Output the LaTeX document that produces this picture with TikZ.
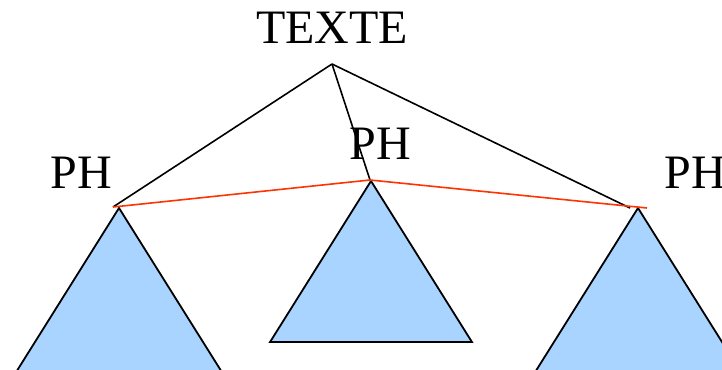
\documentclass[tikz,border=0pt]{standalone}
\usepackage{fontspec}
\setmainfont{Liberation Serif}
\usepackage{tikz}
\usetikzlibrary{positioning}

\definecolor{arbre}{RGB}{168,212,255}
\definecolor{lien}{RGB}{255,51,0}

\tikzset{
	etiq/.style={font=\fontsize{48bp}{58bp}\selectfont, inner sep=0pt, anchor=base},
	branche/.style={black, line width=1.6bp},
	soeur/.style={lien, line width=1.6bp},
	sousarbre/.style={fill=arbre, draw=black, line width=1.8bp, line join=miter}
}

\begin{document}
\begin{tikzpicture}[x=1bp, y=-1bp]
\useasboundingbox (0,0) rectangle (722,369);

% ---- sous-arbres ----
\foreach \ax/\ay/\h in {119/208/163,371/181/161,638/208/163}
	\filldraw[sousarbre] (\ax,\ay) -- ++({-0.627*\h},\h) -- ++({1.254*\h},0) -- cycle;

% ---- etiquettes ----
\node[etiq] (texte) at (332,43) {TEXTE};
\node[etiq] (ph1) at (81,188) {PH};
\node[etiq] (ph2) at (380,159) {PH};
\node[etiq] (ph3) at (695,188) {PH};

% ---- points d'attache ----
\coordinate (racine) at (332,64);
\coordinate (g) at (113,207);
\coordinate (m) at (370,180);
\coordinate (d) at (630,208);
\coordinate (dr) at (647,208);

% branches
\draw[branche] (racine) -- (g);
\draw[branche] (racine) -- (m);
\draw[branche] (racine) -- (d);
% lien rouge
\draw[soeur] (g) -- (m) -- (dr);
\end{tikzpicture}
\end{document}
